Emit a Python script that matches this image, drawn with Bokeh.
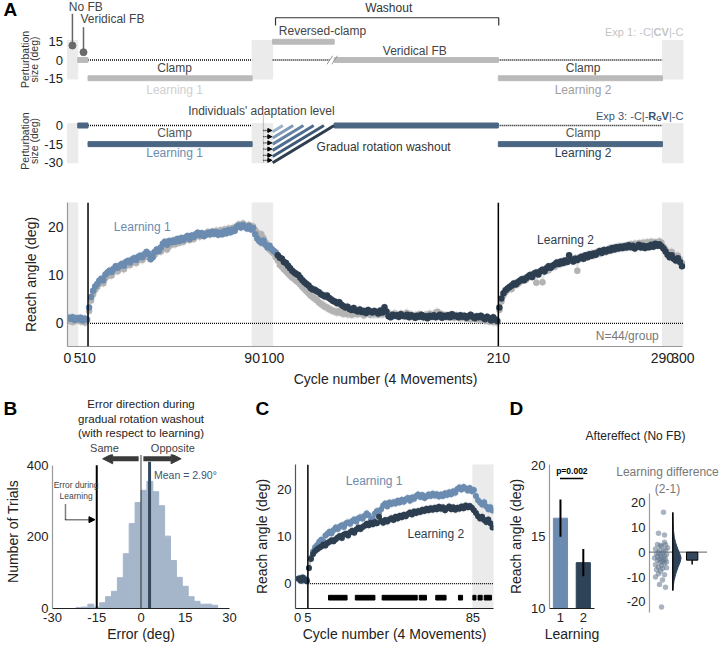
import numpy as np
from bokeh.plotting import figure
from bokeh.layouts import column, row
from bokeh.models import Range1d, FixedTicker, Arrow, NormalHead, Span
from bokeh.core.properties import value
from bokeh.embed import file_html
from bokeh.resources import INLINE

FONT = "Liberation Sans"
BLUE = "#6b8cb0"
NAVY = "#2c3e50"
GREY_DOT = "#b3b3b3"
BOX = "#ebebeb"
SCHEMA_GREY = "#bababa"
SCHEMA_NAVY = "#4a6682"
HIST = "#a5b6ca"

# ---------------------------------------------------------------- data
# Panel A : mean reach angle per cycle (cycles 1..300)
exp1_reach = [
    0.5, 0.8, 0.3, 0.9, 0.6, 1.0, 0.4, 0.7, 0.2, 0.6,
    2.6, 4.8, 6.1, 7.0, 7.6, 8.3, 8.8, 8.4, 9.5, 9.9,
    10.3, 10.0, 10.8, 11.2, 10.9, 11.5, 11.8, 11.3, 12.1, 12.4,
    12.2, 12.8, 13.0, 12.6, 13.3, 13.6, 13.2, 13.9, 14.2, 13.8,
    14.1, 14.5, 14.3, 14.9, 15.2, 15.0, 15.6, 15.9, 15.4, 16.1,
    16.4, 16.8, 16.5, 17.1, 16.8, 17.3, 17.0, 17.6, 17.8, 17.4,
    17.9, 17.6, 18.2, 18.5, 18.1, 18.7, 18.3, 18.8, 19.0, 18.6,
    19.0, 18.8, 19.3, 18.9, 19.4, 19.1, 19.6, 19.2, 19.8, 19.4,
    19.9, 19.6, 20.3, 20.6, 20.2, 20.8, 20.4, 20.1, 20.5, 20.0,
    20.2, 19.4, 18.9, 18.3, 18.6, 17.8, 16.9, 16.2, 15.4, 15.0,
    14.6, 13.8, 13.1, 12.2, 11.8, 11.3, 10.9, 10.4, 10.0, 9.6,
    9.3, 8.9, 8.6, 8.1, 7.6, 7.2, 6.7, 6.3, 5.8, 5.5,
    5.2, 4.9, 4.4, 4.1, 3.8, 3.5, 3.3, 3.0, 2.8, 2.6,
    2.5, 2.3, 2.6, 2.2, 2.0, 2.3, 1.9, 2.1, 1.8, 2.0,
    2.2, 1.9, 2.4, 2.0, 1.7, 2.1, 2.3, 1.8, 2.0, 1.9,
    2.1, 1.8, 2.2, 1.9, 2.3, 2.0, 1.7, 1.9, 1.6, 2.1,
    1.8, 1.5, 2.0, 1.7, 1.9, 2.2, 1.6, 1.8, 1.4, 1.7,
    1.5, 1.9, 1.6, 1.3, 1.8, 1.5, 2.0, 1.7, 1.4, 2.3,
    2.4, 1.6, 1.9, 1.4, 1.7, 1.3, 1.8, 1.5, 1.2, 1.6,
    1.4, 1.1, 1.5, 1.2, 1.0, 1.4, 0.9, 1.3, 1.1, 0.8,
    1.0, 0.7, 1.2, 0.6, 0.9, 0.4, 0.8, 0.3, 0.6, 0.2,
    2.8, 4.6, 5.9, 6.5, 7.0, 7.4, 7.2, 8.0, 8.4, 8.2,
    8.7, 9.0, 9.3, 9.1, 9.6, 10.0, 9.8, 10.3, 8.5, 10.5,
    10.8, 8.6, 11.0, 11.4, 11.1, 11.7, 12.0, 11.8, 12.3, 12.6,
    12.4, 12.9, 12.7, 13.2, 13.0, 13.4, 13.1, 13.6, 11.0, 13.8,
    13.6, 14.0, 13.8, 14.3, 14.1, 14.5, 14.2, 14.7, 14.9, 14.6,
    15.0, 15.2, 14.9, 15.4, 15.6, 15.3, 15.8, 15.5, 16.0, 15.7,
    16.1, 15.8, 16.3, 16.0, 16.5, 16.2, 16.6, 16.3, 16.7, 16.4,
    16.8, 16.5, 16.9, 16.6, 17.0, 16.7, 16.9, 16.6, 17.1, 16.8,
    16.0, 15.4, 14.8, 14.5, 14.9, 14.2, 13.8, 14.1, 13.4, 12.6,
]
exp3_reach = [
    1.2, 1.0, 1.3, 0.7, 1.1, 0.9, 1.2, 0.6, 1.0, 0.8,
    3.3, 5.5, 6.8, 7.7, 8.2, 8.9, 9.3, 9.0, 10.2, 10.6,
    11.0, 10.7, 11.4, 11.9, 11.6, 12.1, 12.4, 12.0, 12.8, 13.0,
    12.7, 13.3, 13.6, 13.2, 13.9, 14.1, 13.8, 14.4, 14.9, 14.5,
    13.4, 13.8, 14.9, 15.4, 15.1, 15.8, 16.6, 17.0, 16.4, 17.2,
    16.9, 17.3, 17.0, 17.6, 17.2, 17.8, 17.4, 17.9, 18.2, 17.6,
    18.3, 18.0, 18.6, 18.9, 18.4, 18.8, 18.2, 18.5, 18.9, 18.6,
    19.1, 18.7, 19.0, 18.5, 18.9, 18.6, 19.2, 18.8, 19.4, 19.0,
    19.6, 19.3, 20.1, 20.4, 20.0, 20.5, 20.2, 19.8, 20.3, 19.6,
    19.9, 18.6, 17.7, 17.2, 16.8, 17.3, 16.4, 15.8, 16.2, 15.5,
    15.1, 14.8, 14.2, 13.7, 13.5, 12.8, 12.6, 12.0, 11.5, 11.0,
    10.6, 10.3, 10.1, 9.5, 9.0, 8.6, 8.2, 7.9, 7.4, 7.1,
    7.0, 6.7, 6.5, 6.1, 5.9, 5.6, 5.8, 5.3, 5.0, 4.7,
    4.5, 4.2, 4.4, 3.9, 3.6, 3.3, 3.5, 3.0, 2.8, 3.2,
    2.7, 2.5, 2.9, 2.4, 2.6, 2.2, 2.8, 2.5, 2.3, 2.6,
    2.4, 2.1, 2.7, 2.3, 3.4, 2.5, 1.5, 1.3, 1.8, 1.6,
    1.7, 1.4, 1.9, 1.6, 1.5, 1.8, 1.3, 1.7, 1.5, 1.2,
    1.6, 1.4, 1.8, 1.3, 1.5, 1.1, 1.6, 1.4, 1.7, 1.3,
    1.5, 1.8, 1.2, 1.6, 1.4, 1.7, 1.3, 1.9, 1.5, 1.6,
    1.3, 1.7, 1.4, 1.6, 1.2, 1.5, 1.8, 1.4, 1.1, 1.5,
    1.3, 1.6, 1.2, 0.9, 1.4, 1.1, 0.6, 1.3, 0.8, 0.5,
    3.3, 5.2, 6.3, 6.9, 7.3, 7.6, 7.9, 8.3, 8.1, 8.6,
    8.9, 9.2, 9.0, 9.4, 9.8, 10.1, 9.7, 10.4, 10.6, 10.2,
    10.9, 11.2, 10.8, 11.5, 11.9, 11.6, 12.0, 12.3, 12.7, 12.4,
    12.9, 12.6, 13.1, 12.8, 14.2, 13.3, 12.9, 13.5, 13.2, 13.6,
    13.9, 13.5, 14.2, 13.8, 14.4, 14.1, 14.6, 14.3, 14.8, 15.1,
    14.7, 15.3, 15.0, 15.4, 15.2, 15.7, 15.4, 15.9, 15.6, 16.0,
    15.7, 16.1, 15.8, 16.3, 15.9, 16.2, 15.6, 16.0, 16.4, 15.8,
    16.2, 15.7, 16.1, 15.9, 16.4, 16.0, 16.6, 16.2, 16.5, 16.1,
    15.6, 15.0, 14.3, 13.8, 14.2, 13.5, 13.1, 13.6, 12.8, 11.9,
]
sem_exp1 = 1.0
sem_exp3 = 0.9
cycles = list(range(1, 301))
learning1_last_cycle = 102          # exp3 points drawn in "Learning 1" blue

# experiment schedule (schematics)
nofb_start = [0, 90, 290]
nofb_end = [5, 100, 300]
clamp_start = [10, 210]
clamp_end = [90, 290]
clamp_size = -15
veridical_start = [5, 130]
veridical_end = [10, 210]
revclamp_start = [100]
revclamp_end = [130]
revclamp_size = 15
gradual_start = 100
gradual_levels = [5, 10, 15, 20, 25, 30]
adapt_levels = [-4, -9, -14, -19, -24, -28]

a1_yticks = [-15, 0, 15]
a1_ylabels = ["-15", "0", "15"]
a2_yticks = [-30, -15, 0]
a2_ylabels = ["-30", "-15", "0"]
a_xticks = [0, 5, 10, 90, 100, 210, 290, 300]
a_xlabels = ["0", "5", "10", "90", "100", "210", "290", "300"]

# Panel B : histogram of errors during gradual washout
hist_edges = [-22, -20, -18, -16, -14, -12, -10, -8, -6, -4, -2, 0, 2, 4, 6, 8,
              10, 12, 14, 16, 18, 20, 22, 24, 26]
hist_counts = [3, 4, 12, 4, 16, 33, 48, 86, 153, 237, 296, 330, 355, 326, 287,
               202, 134, 87, 62, 33, 20, 12, 12, 9]
learning_error = -15
mean_error = 2.90
b_xticks = [-30, -15, 0, 15, 30]
b_xlabels = ["-30", "-15", "0", "15", "30"]

# Panel C : significant-difference cycles
sig_start = [15, 28, 41, 59, 67, 78, 85, 87.5, 90.5]
sig_end = [24, 37.5, 58, 62.5, 72, 80, 86.5, 89.5, 94]

# Panel D
bar_learning = [1, 2]
bar_means = [16.3, 13.2]
bar_sems = [1.3, 0.95]
diff_values = [16.1, 7.6, 6.9, 4.0, 3.1, 2.3, 3.0, 1.3, 0.7, 0.4, 1.8, 2.7, 0.9,
               -0.2, -0.4, -0.9, -0.6, -1.3, -1.5, -1.8, -2.0, -2.3, -2.7, -2.9,
               -3.0, -3.3, -3.6, -3.9, -4.0, -4.4, -5.0, -5.4, -6.0, -6.3, -6.6,
               -7.1, -7.6, -8.7, -9.1, -10.0, -11.2, -13.0, -14.1, -22.1]
diff_jitter = [14, 9, 15, 15, 8, 12, 16, 6, 10, 14, 18, 11, 16, 9, 13, 17, 7, 11,
               15, 8, 12, 5, 16, 10, 14, 8, 13, 17, 11, 15, 6, 12, 9, 17, 13, 7,
               11, 9, 15, 6, 13, 10, 16, 12]
diff_mean = -3.2
diff_sem = 1.7
violin_y = [16, 12, 8.7, 6, 4, 1.3, -0.9, -2.3, -4, -6.3, -8.7, -11.3, -13.5, -15.4]
violin_w = [0, 0.3, 0.7, 1.5, 2.7, 5, 7.3, 8.3, 7.3, 5, 3, 1.3, 0.5, 0]
violin_base = 23.3
d2_yticks = [-20, -10, 0, 10, 20]
d2_ylabels = ["-20", "-10", "0", "10", "20"]


# ---------------------------------------------------------------- helpers
def make_fig(w, h, xr, yr, left=0, right=0, top=0, bottom=0):
    p = figure(width=w, height=h, x_range=Range1d(*xr), y_range=Range1d(*yr),
               output_backend="svg", toolbar_location=None,
               min_border_left=left, min_border_right=right,
               min_border_top=top, min_border_bottom=bottom)
    p.outline_line_color = None
    p.grid.visible = False
    p.background_fill_color = "white"
    p.border_fill_color = "white"
    try:
        p.frame_align = False
    except Exception:
        pass
    return p


def bare(p):
    p.axis.visible = False
    return p


def style_axis(ax, ticks, labels, size="13px", line_color="#999999", label=None,
               standoff=4, label_standoff=1):
    ax.ticker = FixedTicker(ticks=ticks)
    ax.major_label_overrides = {t: l for t, l in zip(ticks, labels)}
    ax.major_label_text_font = FONT
    ax.major_label_text_font_size = size
    ax.major_label_text_color = "#222222"
    ax.major_tick_line_color = None
    ax.minor_tick_line_color = None
    ax.major_tick_out = 0
    ax.major_tick_in = 0
    ax.minor_tick_out = 0
    ax.axis_line_color = line_color
    ax.axis_line_width = 1.2
    ax.major_label_standoff = standoff
    ax.axis_label_text_font = FONT
    ax.axis_label_text_font_size = "14px"
    ax.axis_label_text_font_style = "normal"
    ax.axis_label_text_color = "#222222"
    ax.axis_label_standoff = label_standoff
    if label:
        ax.axis_label = label


def txt(p, x, y, s, size="12px", color="#333333", align="left", baseline="middle",
        style="normal", angle=0):
    p.text(x=[x], y=[y], text=[s], text_font=value(FONT), text_font_size=value(size),
           text_color=color, text_align=align, text_baseline=baseline,
           text_font_style=value(style), angle=angle)


def tick_texts(p, x, ticks, labels, size="13px"):
    p.text(x=[x] * len(ticks), y=ticks, text=labels, text_font=value(FONT),
           text_font_size=value(size), text_color="#222222", text_align="right",
           text_baseline="middle")


# ---------------------------------------------------------------- A1 (Exp 1 schematic)
a1 = bare(make_fig(720, 97, (-32.66, 318.3), (-30.81, 48.89)))
tick_texts(a1, -2.2, a1_yticks, a1_ylabels)
a1.quad(left=nofb_start, right=nofb_end, bottom=-15.6, top=16, color=BOX)
a1.segment(x0=[10, 100, 210], y0=0, x1=[90, 128, 290], y1=0, line_color="black",
           line_dash="1 1", line_width=1.3)
a1.quad(left=veridical_start, right=veridical_end, bottom=-2, top=2, color=SCHEMA_GREY)
a1.quad(left=clamp_start, right=clamp_end, bottom=clamp_size - 2, top=clamp_size + 2,
        color=SCHEMA_GREY)
a1.quad(left=revclamp_start, right=revclamp_end, bottom=revclamp_size - 2,
        top=revclamp_size + 2, color=SCHEMA_GREY)
a1.segment(x0=[126.5, 128.8], y0=-3.5, x1=[129.3, 131.6], y1=3.5, line_color="#999999",
           line_width=1)
a1.segment(x0=[2.4, 7.8], y0=[38, 27], x1=[2.4, 7.8], y1=[11.9, 6.4], line_color="#666666",
           line_width=1.5)
a1.scatter(x=[2.4, 7.8], y=[11.9, 6.4], size=7, color="#6a6a6a")
txt(a1, 0.6, 43.4, "No FB", color="#444444")
txt(a1, 6.3, 33.3, "Veridical FB", color="#444444")
a1.line(x=[101.4, 101.4, 210.2, 210.2], y=[28.3, 34.7, 34.7, 28.3], line_color="#333333",
        line_width=1.2)
txt(a1, 156.6, 42.9, "Washout", color="#333333", align="center")
txt(a1, 103.0, 24.2, "Reversed-clamp", color="#444444")
txt(a1, 169.3, 7.8, "Veridical FB", color="#444444", align="center")
txt(a1, 52.2, -6.2, "Clamp", color="#444444", align="center")
txt(a1, 52.2, -25.0, "Learning 1", color="#cfcfcf", align="center")
txt(a1, 251.3, -6.2, "Clamp", color="#444444", align="center")
txt(a1, 251.3, -25.0, "Learning 2", color="#a0a0a0", align="center")
txt(a1, 262.0, 22.6, "Exp 1: -C|", size="11px", color="#c4c4c4")
txt(a1, 285.7, 22.6, "CV", size="11px", color="#c4c4c4", style="bold")
txt(a1, 293.2, 22.6, "|-C", size="11px", color="#c4c4c4")
txt(a1, -31.2, 41.5, "A", size="19px", color="black", style="bold")
txt(a1, -20.5, 0.4, "Perturbation", size="10.5px", color="#333333", align="center",
    angle=np.pi / 2)
txt(a1, -16.2, 0.4, "size (deg)", size="10.5px", color="#333333", align="center",
    angle=np.pi / 2)

# ---------------------------------------------------------------- A2 (Exp 3 schematic)
a2 = bare(make_fig(720, 93, (-32.66, 318.3), (-52.29, 22.53)))
tick_texts(a2, -2.2, a2_yticks, a2_ylabels)
a2.quad(left=nofb_start, right=nofb_end, bottom=-30, top=1.5, color=BOX)
a2.segment(x0=[10, 210], y0=0, x1=[90, 290], y1=0, line_color="black",
           line_dash="1 1", line_width=1.3)
a2.quad(left=veridical_start, right=veridical_end, bottom=-2, top=2, color=SCHEMA_NAVY)
a2.quad(left=clamp_start, right=clamp_end, bottom=clamp_size - 2, top=clamp_size + 2,
        color=SCHEMA_NAVY)
stripe_colors = ["#9db3ca", "#8099b7", "#6682a3", "#4f6d8f", "#3f5a78", "#2c3e50"]
a2.segment(x0=[gradual_start] * len(gradual_levels), y0=[-v for v in gradual_levels],
           x1=[gradual_start + v for v in gradual_levels], y1=0,
           line_color=stripe_colors, line_width=3)
a2.segment(x0=[95.5], y0=[8], x1=[95.5], y1=[-30.6], line_color="#9a9a9a",
           line_dash="1 1", line_width=1.3)
for lv in adapt_levels:
    a2.add_layout(Arrow(end=NormalHead(size=4, fill_color="black", line_color="black"),
                        x_start=95.5, y_start=lv, x_end=99.6, y_end=lv,
                        line_dash="1 1", line_width=1.3, line_color="black"))
txt(a2, 94.5, 11.5, "Individuals' adaptation level", color="#444444", align="center")
txt(a2, 121.4, -17.4, "Gradual rotation washout", color="#333333")
txt(a2, 52.2, -6.4, "Clamp", color="#555555", align="center")
txt(a2, 52.2, -22.5, "Learning 1", color=BLUE, align="center")
txt(a2, 251.3, -6.4, "Clamp", color="#555555", align="center")
txt(a2, 251.3, -22.5, "Learning 2", color=NAVY, align="center")
E3C = "#3d5470"
txt(a2, 257.6, 8.0, "Exp 3: -C|-", size="11px", color=E3C)
txt(a2, 283.1, 8.0, "R", size="11px", color=E3C, style="bold")
txt(a2, 287.0, 5.4, "G", size="7px", color=E3C, style="bold")
txt(a2, 289.6, 8.0, "V", size="11px", color=E3C, style="bold")
txt(a2, 293.2, 8.0, "|-C", size="11px", color=E3C)
txt(a2, -20.5, -12.5, "Perturbation", size="10.5px", color="#333333", align="center",
    angle=np.pi / 2)
txt(a2, -16.2, -12.5, "size (deg)", size="10.5px", color="#333333", align="center",
    angle=np.pi / 2)

# ---------------------------------------------------------------- A3 (time course)
a3 = make_fig(720, 202, (0, 310), (-4.8, 25.2), 67, 17, 12, 46)
style_axis(a3.xaxis[0], a_xticks, a_xlabels, size="14px",
           label="Cycle number (4 Movements)", standoff=6, label_standoff=5)
style_axis(a3.yaxis[0], [0, 10, 20], ["0", "10", "20"], size="14px",
           label="Reach angle (deg)", standoff=4, label_standoff=6)
a3.xaxis[0].bounds = (0, 300)
a3.quad(left=nofb_start, right=nofb_end, bottom=-4.8, top=25.2, color=BOX)
a3.segment(x0=[10], y0=[0], x1=[300], y1=[0], line_color="black", line_dash="1 1",
           line_width=1.3)
for loc in [10, 210]:
    a3.add_layout(Span(location=loc, dimension="height", line_color="black", line_width=1.5))
xm = [c_ - 0.5 for c_ in cycles]
k = learning1_last_cycle
a3.varea(x=xm, y1=[v - sem_exp1 for v in exp1_reach], y2=[v + sem_exp1 for v in exp1_reach],
         fill_color="#c8c8c8", fill_alpha=0.45)
a3.varea(x=xm[:k], y1=[v - sem_exp3 for v in exp3_reach[:k]],
         y2=[v + sem_exp3 for v in exp3_reach[:k]], fill_color=BLUE, fill_alpha=0.3)
a3.varea(x=xm[k - 1:], y1=[v - sem_exp3 for v in exp3_reach[k - 1:]],
         y2=[v + sem_exp3 for v in exp3_reach[k - 1:]], fill_color=NAVY, fill_alpha=0.18)
a3.scatter(x=xm, y=exp1_reach, size=6.5, fill_color=GREY_DOT, line_color=None)
a3.scatter(x=xm[:k], y=exp3_reach[:k], size=6.5, fill_color=BLUE, line_color=None)
a3.scatter(x=xm[k:], y=exp3_reach[k:], size=6.5, fill_color=NAVY, line_color=None)
txt(a3, 22.6, 20.1, "Learning 1", color=BLUE)
txt(a3, 228.9, 17.4, "Learning 2", color=NAVY)
txt(a3, 288.2, -2.6, "N=44/group", color="#777777", align="right")

# ---------------------------------------------------------------- B (histogram)
B_TOP = 429.9
b_strip = bare(make_fig(250, 62, (-47.63, 37.12), (B_TOP, 603.0)))
txt(b_strip, -46.6, 557, "B", size="19px", color="black", style="bold")
txt(b_strip, 0, 572, "Error direction during", size="11.5px", color="#222222", align="center")
txt(b_strip, 0, 530, "gradual rotation washout", size="11.5px", color="#222222",
    align="center")
txt(b_strip, 0, 491, "(with respect to learning)", size="11.5px", color="#222222",
    align="center")
txt(b_strip, -12.4, 449, "Same", size="11px", color="#444444", align="center")
txt(b_strip, 10.8, 449, "Opposite", size="11px", color="#444444", align="center")

b = make_fig(250, 194, (-30, 30), (0, B_TOP), 52, 21, 0, 40)
style_axis(b.xaxis[0], b_xticks, b_xlabels, line_color="#222222", label="Error (deg)")
style_axis(b.yaxis[0], [0, 200, 400], ["0", "200", "400"], label="Number of Trials",
           label_standoff=3)
b.yaxis[0].bounds = (0, 400)
b.quad(left=hist_edges[:-1], right=hist_edges[1:], bottom=0, top=hist_counts,
       fill_color=HIST, line_color=HIST)
b.segment(x0=[learning_error], y0=[0], x1=[learning_error], y1=[400], line_color="black",
          line_width=2)
b.segment(x0=[0], y0=[0], x1=[0], y1=[427], line_color="black", line_dash="1 1",
          line_width=1.5)
b.segment(x0=[mean_error], y0=[0], x1=[mean_error], y1=[410], line_color="#34495e",
          line_width=3)
for xs, xe in [(-0.8, -13.0), (0.8, 13.6)]:
    b.add_layout(Arrow(end=NormalHead(size=10, fill_color="#3a3a3a", line_color="#3a3a3a"),
                       x_start=xs, y_start=418, x_end=xe, y_end=418,
                       line_width=5, line_color="#3a3a3a"))
txt(b, 4.4, 374, "Mean = %.2f°" % mean_error, size="10.5px", color="#3d5470")
txt(b, -22.0, 346, "Error during", size="8.5px", color="#444444", align="center")
txt(b, -22.0, 313, "Learning", size="8.5px", color="#444444", align="center")
b.line(x=[-25.6, -25.6], y=[290, 248], line_color="black", line_dash="1 1", line_width=1.5)
b.add_layout(Arrow(end=NormalHead(size=6, fill_color="black", line_color="black"),
                   x_start=-25.6, y_start=248, x_end=-15.6, y_end=248,
                   line_dash="1 1", line_width=1.5, line_color="black"))

# ---------------------------------------------------------------- C (Learning 1 vs 2)
c_strip = bare(make_fig(250, 72, (-22.82, 98.39), (25.3, 40.6)))
txt(c_strip, -20.4, 37.1, "C", size="19px", color="black", style="bold")

c = make_fig(250, 184, (-1, 95), (-5.3, 25.3), 45, 7, 0, 40)
style_axis(c.xaxis[0], [0, 5, 85], ["0", "5", "85"], line_color="#222222",
           label="Cycle number (4 Movements)")
style_axis(c.yaxis[0], [0, 10, 20], ["0", "10", "20"], line_color="#555555",
           label="Reach angle (deg)", label_standoff=4)
c.quad(left=[85], right=[95], bottom=-5.3, top=25.3, color=BOX)
c.segment(x0=[5], y0=[0], x1=[95], y1=[0], line_color="black", line_dash="1 1",
          line_width=1.3)
c.add_layout(Span(location=5, dimension="height", line_color="black", line_width=1.5))
cx = [c_ - 0.5 for c_ in range(1, 96)]
c_l1 = exp3_reach[5:100]
c_l2 = exp3_reach[205:300]
c.varea(x=cx, y1=[v - sem_exp3 for v in c_l1], y2=[v + sem_exp3 for v in c_l1],
        fill_color=BLUE, fill_alpha=0.3)
c.varea(x=cx, y1=[v - sem_exp3 for v in c_l2], y2=[v + sem_exp3 for v in c_l2],
        fill_color=NAVY, fill_alpha=0.18)
c.scatter(x=cx, y=c_l1, size=6, fill_color=BLUE, line_color=None)
c.scatter(x=cx, y=c_l2, size=6, fill_color=NAVY, line_color=None)
c.quad(left=sig_start, right=sig_end, bottom=-3.5, top=-2.5, color="black")
txt(c, 23.4, 21.9, "Learning 1", color=BLUE)
txt(c, 53.3, 10.6, "Learning 2", color=NAVY)

# ---------------------------------------------------------------- D title strip
dt = bare(make_fig(220, 55, (0, 220), (55, 0)))
txt(dt, 9, 16, "D", size="19px", color="black", style="bold")
txt(dt, 135, 43, "Aftereffect (No FB)", size="12px", color="#222222", align="center")

# ---------------------------------------------------------------- D1 (bars)
d1 = make_fig(105, 201, (0.52, 2.49), (10, 20.05), 49, 11, 17, 40)
style_axis(d1.xaxis[0], bar_learning, ["1", "2"], line_color="#222222", label="Learning")
style_axis(d1.yaxis[0], [10, 15, 20], ["10", "15", "20"], label="Reach angle (deg)",
           label_standoff=4)
d1.vbar(x=bar_learning, width=0.62, bottom=10, top=bar_means, color=[BLUE, "#2e4258"])
d1.segment(x0=bar_learning, y0=[m - s for m, s in zip(bar_means, bar_sems)],
           x1=bar_learning, y1=[m + s for m, s in zip(bar_means, bar_sems)],
           line_color="black", line_width=2)
d1.segment(x0=[0.98], y0=[19.07], x1=[2.0], y1=[19.07], line_color="black", line_width=1.5)
txt(d1, 1.5, 19.6, "p=0.002", size="8.5px", color="black", align="center", style="bold")

# ---------------------------------------------------------------- D2 (difference)
d2 = bare(make_fig(115, 201, (-44, 71), (-38.75, 42.13)))
d2.segment(x0=[0], y0=[-24.3], x1=[0], y1=[23.6], line_color="#999999", line_width=1.2)
tick_texts(d2, -4, d2_yticks, d2_ylabels)
d2.segment(x0=[0], y0=[0], x1=[57.7], y1=[0], line_color="black", line_dash="1 1",
           line_width=1.3)
d2.scatter(x=diff_jitter, y=diff_values, size=5.5, fill_color="#62768c", fill_alpha=0.55,
           line_color=None)
d2.patch(x=[violin_base + w for w in violin_w], y=violin_y, fill_color="#2e4258",
         line_color="#2e4258")
d2.segment(x0=[violin_base], y0=[violin_y[0]], x1=[violin_base], y1=[violin_y[-1]],
           line_color="black", line_width=1.3)
d2.quad(left=[37], right=[48.3], top=[0], bottom=[diff_mean], fill_color="#34495e",
        line_color="black", line_width=1)
d2.segment(x0=[42.65], y0=[diff_mean], x1=[42.65], y1=[diff_mean - diff_sem],
           line_color="black", line_width=1.5)
txt(d2, 18, 32.1, "Learning difference", size="12px", color="#777777", align="center")
txt(d2, 18, 25.6, "(2-1)", size="12px", color="#777777", align="center")

layout = column(a1, a2, a3,
                row(column(b_strip, b), column(c_strip, c), column(dt, row(d1, d2))))
open("out.html", "w").write(file_html(layout, INLINE))
